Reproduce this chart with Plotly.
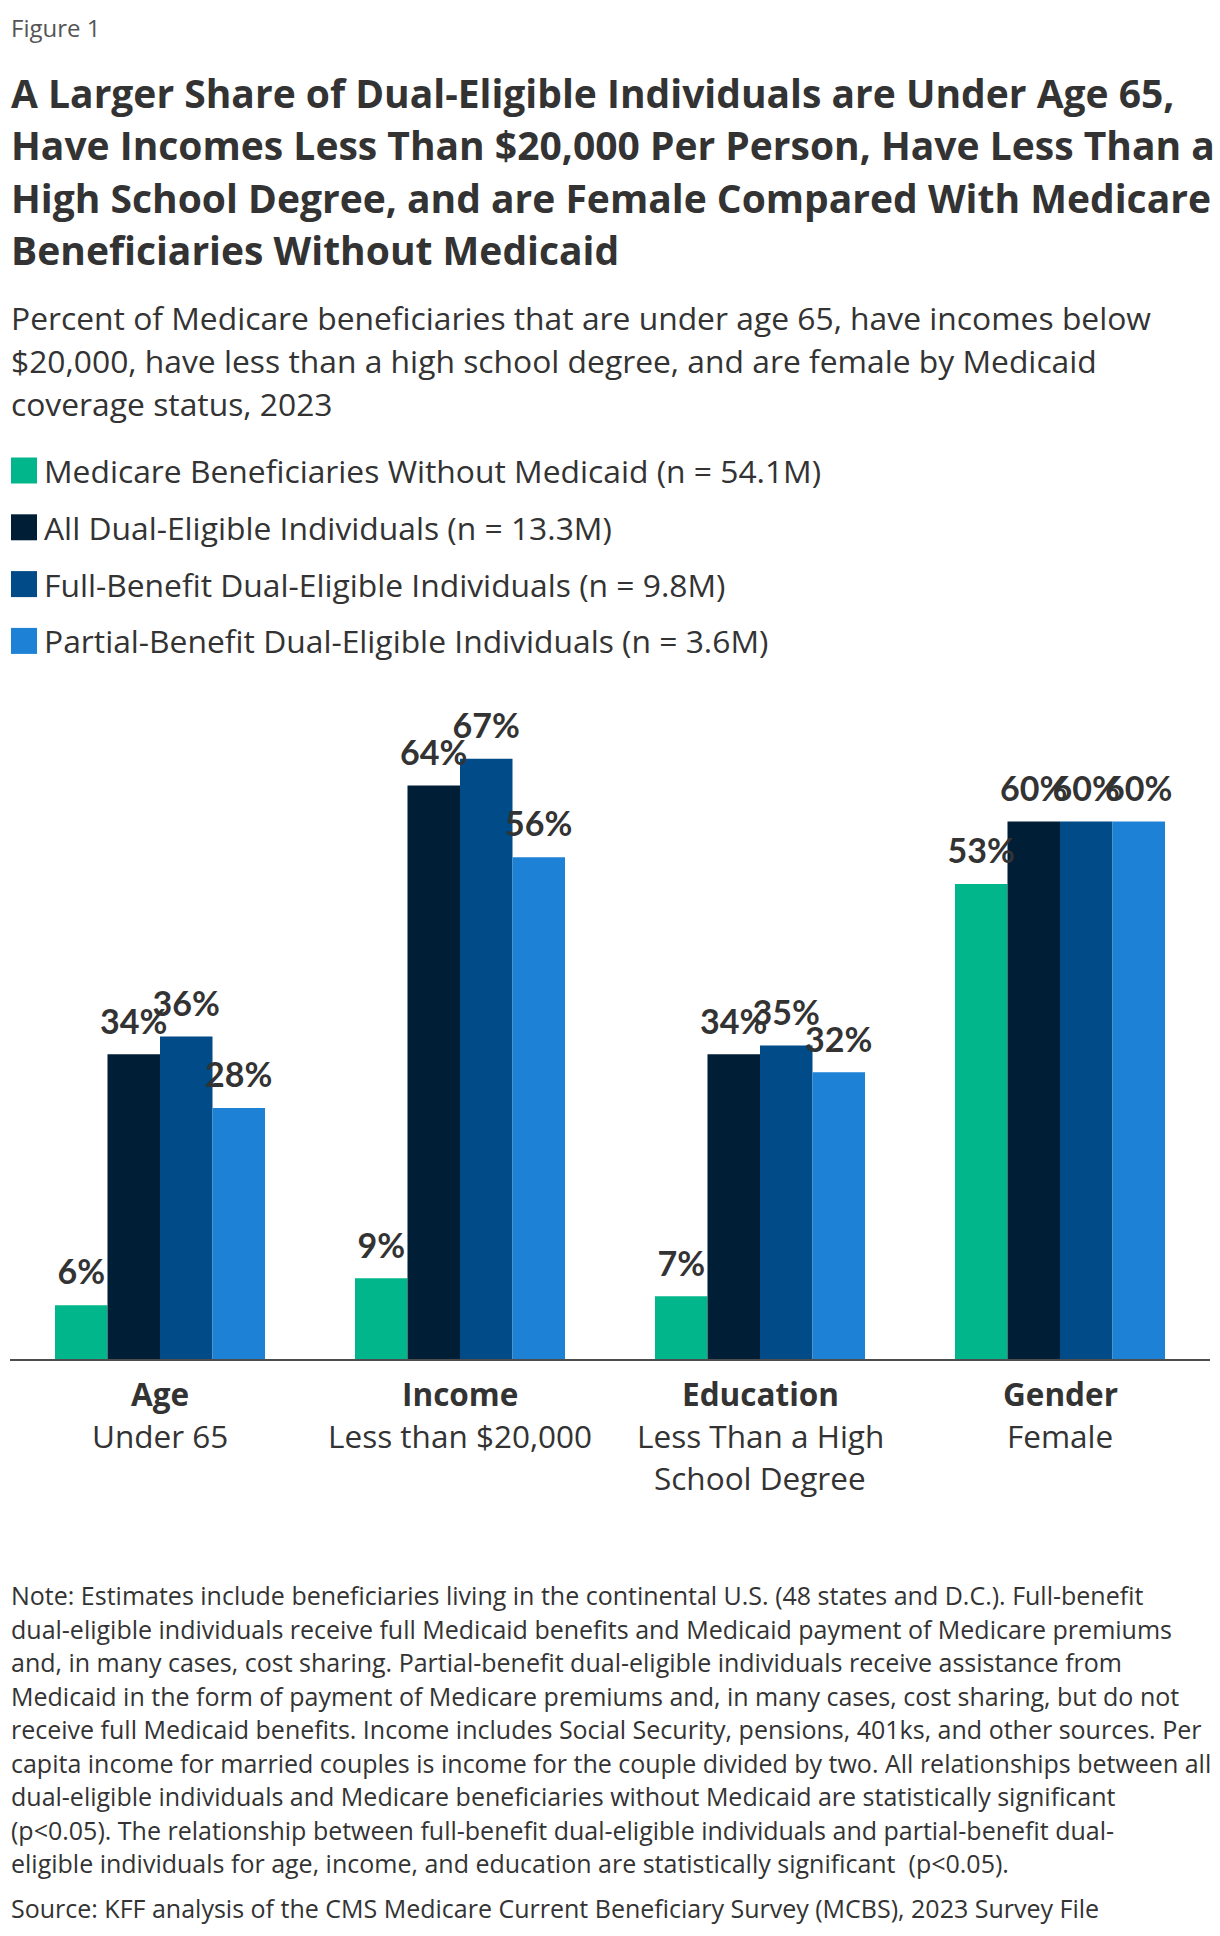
import plotly.graph_objects as go

# ---------------- data ----------------
categories = ["Age", "Income", "Education", "Gender"]
cat_line1 = ["Age", "Income", "Education", "Gender"]
cat_rest = [["Under 65"], ["Less than $20,000"], ["Less Than a High", "School Degree"], ["Female"]]

series_names = [
    "Medicare Beneficiaries Without Medicaid (n = 54.1M)",
    "All Dual-Eligible Individuals (n = 13.3M)",
    "Full-Benefit Dual-Eligible Individuals (n = 9.8M)",
    "Partial-Benefit Dual-Eligible Individuals (n = 3.6M)",
]
without_medicaid = [6, 9, 7, 53]
all_dual = [34, 64, 34, 60]
full_benefit = [36, 67, 35, 60]
partial_benefit = [28, 56, 32, 60]
series_values = [without_medicaid, all_dual, full_benefit, partial_benefit]
colors = ["#01b68a", "#001f37", "#004b88", "#1d81d6"]

fig_label = "Figure 1"
title_lines = [
    "A Larger Share of Dual-Eligible Individuals are Under Age 65,",
    "Have Incomes Less Than $20,000 Per Person, Have Less Than a",
    "High School Degree, and are Female Compared With Medicare",
    "Beneficiaries Without Medicaid",
]
subtitle_lines = [
    "Percent of Medicare beneficiaries that are under age 65, have incomes below",
    "$20,000, have less than a high school degree, and are female by Medicaid",
    "coverage status, 2023",
]
note_lines = [
    "Note: Estimates include beneficiaries living in the continental U.S. (48 states and D.C.). Full-benefit",
    "dual-eligible individuals receive full Medicaid benefits and Medicaid payment of Medicare premiums",
    "and, in many cases, cost sharing. Partial-benefit dual-eligible individuals receive assistance from",
    "Medicaid in the form of payment of Medicare premiums and, in many cases, cost sharing, but do not",
    "receive full Medicaid benefits. Income includes Social Security, pensions, 401ks, and other sources. Per",
    "capita income for married couples is income for the couple divided by two. All relationships between all",
    "dual-eligible individuals and Medicare beneficiaries without Medicaid are statistically significant",
    "(p<0.05). The relationship between full-benefit dual-eligible individuals and partial-benefit dual-",
    "eligible individuals for age, income, and education are statistically significant  (p<0.05).",
]
source_line = "Source: KFF analysis of the CMS Medicare Current Beneficiary Survey (MCBS), 2023 Survey File"

# ---------------- layout geometry ----------------
W, H = 1220, 1936
M_L, M_R, M_T, M_B = 10, 10, 700, 577
PW = W - M_L - M_R
PH = H - M_T - M_B
BASE = H - M_B
FONT = "'Open Sans', 'Noto Sans', sans-serif"
LABEL_FONT = "Lato, 'Open Sans', sans-serif"
TXT = "#333333"


def py(y_px):
    return (BASE - y_px) / PH


def px(x_px):
    return (x_px - M_L) / PW


fig = go.Figure()
for name, vals, col in zip(series_names, series_values, colors):
    fig.add_trace(go.Bar(
        x=categories, y=vals, name=name, marker=dict(color=col, line=dict(width=0)),
        showlegend=False, hoverinfo="skip",
    ))
# value labels, grouped to sit above each bar
for name, vals in zip(series_names, series_values):
    fig.add_trace(go.Scatter(
        x=categories, y=vals, name=name, mode="markers+text",
        marker=dict(size=18, opacity=0, color="white"),
        text=[f"{v}%" for v in vals], textposition="top center",
        textfont=dict(family=LABEL_FONT, size=34, color=TXT, weight=700),
        cliponaxis=False, showlegend=False, hoverinfo="skip",
    ))

ann = []


def add_text(text, x_px, y_px, size, color=TXT, bold=False, xref="paper", xval=None, xanchor="left"):
    ann.append(dict(
        text=text, xref=xref, yref="paper",
        x=(px(x_px) if xval is None else xval), y=py(y_px),
        xanchor=xanchor, yanchor="middle", showarrow=False,
        font=dict(family=FONT, size=size, color=color, weight=(700 if bold else 400)),
    ))


add_text(fig_label, 9, 27, 24, color="#555555")
for i, t in enumerate(title_lines):
    add_text(t, 9, 92.5 + i * 52.4, 39, bold=True)
for i, t in enumerate(subtitle_lines):
    add_text(t, 9, 317 + i * 43.3, 31.8)

leg_y0, leg_dy = 470.5, 56.8
shapes = []
for i, (name, col) in enumerate(zip(series_names, colors)):
    y = leg_y0 + i * leg_dy
    add_text(name, 42, y, 31.8)
    shapes.append(dict(type="rect", xref="paper", yref="paper",
                       x0=px(11), x1=px(37), y0=py(y + 13), y1=py(y - 13),
                       fillcolor=col, line=dict(width=0)))

# category labels under the axis
for cat, l1, rest in zip(categories, cat_line1, cat_rest):
    add_text(l1, 0, 1393, 31.5, bold=True, xref="x", xval=cat, xanchor="center")
    for j, r in enumerate(rest):
        add_text(r, 0, 1435 + j * 42.6, 31.5, xref="x", xval=cat, xanchor="center")

for i, t in enumerate(note_lines):
    add_text(t, 9, 1595.4 + i * 33.5, 25)
add_text(source_line, 9, 1907.8, 25)

fig.update_layout(
    width=W, height=H,
    margin=dict(l=M_L, r=M_R, t=M_T, b=M_B, pad=0),
    paper_bgcolor="white", plot_bgcolor="white",
    barmode="group", bargap=0.3, bargroupgap=0,
    scattermode="group", scattergap=0.3,
    showlegend=False,
    xaxis=dict(showline=True, linecolor="#4d4d4d", linewidth=2, showticklabels=False,
               ticks="", showgrid=False, zeroline=False, fixedrange=True),
    yaxis=dict(range=[0, PH / 8.96], visible=False, showgrid=False, zeroline=False, fixedrange=True),
    annotations=ann, shapes=shapes,
    font=dict(family=FONT, color=TXT),
)

fig.write_html("out.html")
